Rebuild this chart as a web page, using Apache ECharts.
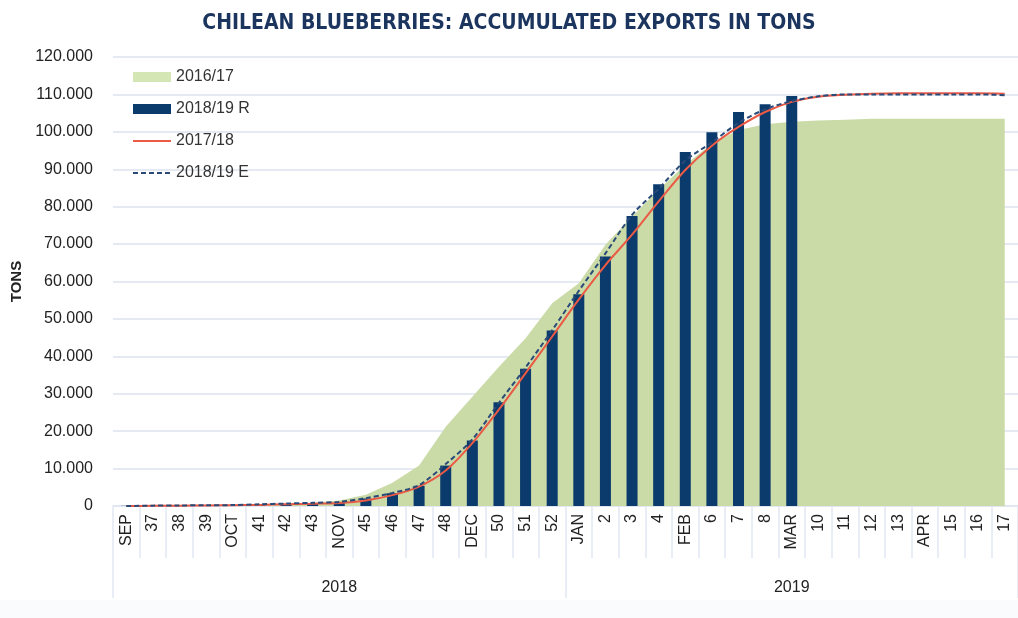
<!DOCTYPE html>
<html>
<head>
<meta charset="utf-8">
<script src="https://cdn.jsdelivr.net/npm/echarts@6/dist/echarts.min.js"></script>
<style>
html,body{margin:0;padding:0;background:#fff;}
#chart{width:1018px;height:618px;}
</style>
</head>
<body>
<div id="chart"></div>
<script>
var categories = ['SEP','37','38','39','OCT','41','42','43','NOV','45','46','47','48','DEC','50','51','52','JAN','2','3','4','FEB','6','7','8','MAR','10','11','12','13','APR','15','16','17'];
var years = ['2018','2019'];
var s1617 = [0,50,100,150,200,400,600,900,1500,3000,6200,10800,21200,29200,37200,44800,54200,59500,69800,77400,84500,91200,96800,100500,102000,102700,103000,103200,103500,103500,103500,103500,103500,103500];
var s1819R = [50,100,150,200,250,400,550,700,900,2000,3400,5400,10800,17500,27700,36700,46900,56600,66700,77500,86000,94600,99900,105300,107400,109600,'-','-','-','-','-','-','-','-'];
var s1718 = [0,50,100,150,200,300,450,600,800,1500,2900,5200,9500,16800,25800,35500,45300,55200,64400,72500,81400,89800,96300,101300,105300,108000,109400,109900,110200,110300,110300,110300,110300,110200];
var s1819E = [0,100,150,200,250,450,650,850,1100,2100,3500,5600,11200,17800,27600,37000,47000,57500,67500,77800,84800,92300,97200,102400,106000,108200,109500,110000,110000,110000,110000,110000,110000,109800];

var FONT = "'Liberation Sans', Arial, sans-serif";
var chart = echarts.init(document.getElementById('chart'), null, {renderer:'canvas'});
chart.setOption({
  animation: false,
  backgroundColor: '#ffffff',
  title: {
    text: 'CHILEAN BLUEBERRIES: ACCUMULATED EXPORTS IN TONS',
    left: 'center', top: 8,
    textStyle: {fontFamily: "'Liberation Sans Narrow','DejaVu Sans Condensed', sans-serif", fontWeight: 'bold', fontSize: 21, color: '#1c355e'}
  },
  graphic: [{
    type: 'rect', left: 0, top: 600, z: -10, silent: true,
    shape: {width: 1018, height: 18}, style: {fill: '#fafbfc'}
  }],
  legend: {
    orient: 'vertical', left: 127, top: 64,
    itemWidth: 38, itemHeight: 10, itemGap: 16,
    textStyle: {fontFamily: FONT, fontSize: 16, color: '#333'},
    data: [
      {name: '2016/17', icon: 'rect', itemStyle: {color: '#d4e6b3'}},
      {name: '2018/19 R', icon: 'rect'},
      {name: '2017/18', itemStyle: {opacity: 0}},
      {name: '2018/19 E', itemStyle: {opacity: 0}}
    ]
  },
  grid: {left: 113, top: 57, width: 908, height: 449, containLabel: false},
  xAxis: [{
    type: 'category', data: categories, position: 'bottom',
    axisLine: {show: true, lineStyle: {color: '#dfe6f0', width: 1.5}},
    axisTick: {show: true, length: 52, lineStyle: {color: '#e2e9f3', width: 1.5}},
    axisLabel: {interval: 0, rotate: 90, margin: 8, fontFamily: FONT, fontSize: 16, color: '#222'},
    splitLine: {show: false}
  }, {
    type: 'category', data: years, position: 'bottom',
    axisLine: {show: false},
    axisTick: {show: true, length: 92, lineStyle: {color: '#e2e9f3', width: 1.5}},
    axisLabel: {margin: 74, fontFamily: FONT, fontSize: 16, color: '#222'},
    splitLine: {show: false}
  }],
  yAxis: {
    type: 'value', min: 0, max: 120000, interval: 10000,
    name: 'TONS', nameLocation: 'middle', nameGap: 86,
    nameTextStyle: {fontFamily: FONT, fontWeight: 'bold', fontSize: 15, color: '#222'},
    axisLine: {show: false}, axisTick: {show: false},
    axisLabel: {margin: 20, fontFamily: FONT, fontSize: 16, color: '#222',
      formatter: function(v){ return v === 0 ? '0' : (v/1000) + '.000'; }},
    splitLine: {lineStyle: {color: '#e5eaf2', width: 2}}
  },
  series: [
    {name: '2016/17', type: 'line', data: s1617, symbol: 'none', z: 1,
     lineStyle: {width: 0, color: '#cadba7'}, itemStyle: {color: '#cadba7'},
     areaStyle: {color: '#cadba7', opacity: 1}},
    {name: '2018/19 R', type: 'bar', data: s1819R, barWidth: 11, z: 3,
     itemStyle: {color: '#0b3a6c'}},
    {name: '2017/18', type: 'line', data: s1718, symbol: 'none', smooth: 0.3, z: 5,
     lineStyle: {color: '#ea5a45', width: 2}, itemStyle: {color: '#ea5a45'}},
    {name: '2018/19 E', type: 'line', data: s1819E, symbol: 'none', smooth: 0.3, z: 6,
     lineStyle: {color: '#2a4a78', width: 2, type: [5, 3]}, itemStyle: {color: '#2a4a78'}}
  ]
});
</script>
</body>
</html>
